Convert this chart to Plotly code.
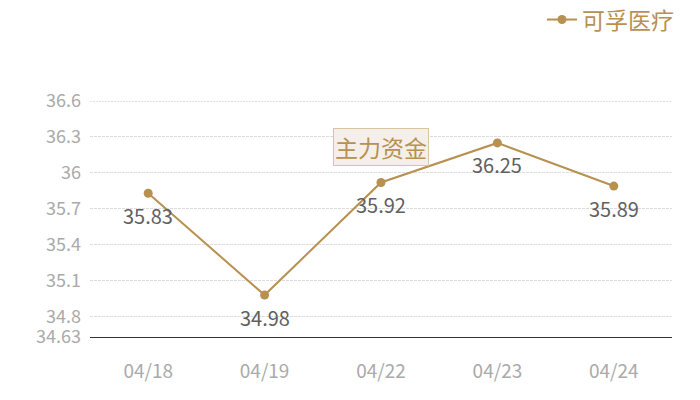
import plotly.graph_objects as go

# data
dates = ["04/18", "04/19", "04/22", "04/23", "04/24"]
prices = [35.83, 34.98, 35.92, 36.25, 35.89]
series_name = "可孚医疗"
y_ticks = [34.63, 34.8, 35.1, 35.4, 35.7, 36.0, 36.3, 36.6]
y_ticktext = ["34.63", "34.8", "35.1", "35.4", "35.7", "36", "36.3", "36.6"]
badge_text = "主力资金"

GOLD = "#b8904f"
FONT = "Noto Sans CJK SC, Noto Sans, sans-serif"

fig = go.Figure()
fig.add_trace(go.Scatter(
    x=dates, y=prices, name=series_name,
    mode="lines+markers",
    line=dict(color=GOLD, width=2),
    marker=dict(color=GOLD, size=9),
    cliponaxis=False,
))

# value labels under each point
for d, p in zip(dates, prices):
    fig.add_annotation(x=d, y=p, text=f"{p:.2f}", showarrow=False,
                       yshift=-22,
                       font=dict(color="#606060", size=20, family=FONT))

# darker dotted line along the top of the grid
fig.add_shape(type="line", xref="paper", x0=0, x1=1, yref="y",
              y0=y_ticks[-1], y1=y_ticks[-1],
              line=dict(color="#c4c4c4", width=1, dash="2px,1px"))

fig.add_annotation(xref="paper", yref="paper", x=0.5, y=0.805,
                   xanchor="center", yanchor="middle",
                   text=badge_text, showarrow=False,
                   font=dict(color=GOLD, size=23, family=FONT),
                   bgcolor="#f4efe9", bordercolor="#d8c4a0",
                   borderwidth=1, borderpad=1)

fig.update_xaxes(type="category", range=[-0.5, len(dates) - 0.5],
                 showgrid=False, zeroline=False,
                 showline=True, linecolor="#333333", linewidth=1,
                 tickfont=dict(color="#aaaaaa", size=19, family=FONT),
                 ticklabelstandoff=17)
fig.update_yaxes(range=[y_ticks[0], y_ticks[-1]],
                 tickmode="array", tickvals=y_ticks, ticktext=y_ticktext,
                 showgrid=True, gridcolor="#dcdcdc", griddash="3px,1px",
                 gridwidth=1, zeroline=False,
                 tickfont=dict(color="#aaaaaa", size=18, family=FONT),
                 ticklabelstandoff=8)

fig.update_layout(
    width=700, height=400,
    margin=dict(l=82, r=36, t=93, b=71, autoexpand=False),
    paper_bgcolor="white", plot_bgcolor="white",
    font=dict(family=FONT),
    showlegend=True,
    legend=dict(orientation="h", x=1.012, xanchor="right", y=1.345,
                yanchor="middle", itemwidth=30,
                font=dict(color=GOLD, size=23, family=FONT),
                bgcolor="rgba(0,0,0,0)"),
)

fig.write_html("out.html")
